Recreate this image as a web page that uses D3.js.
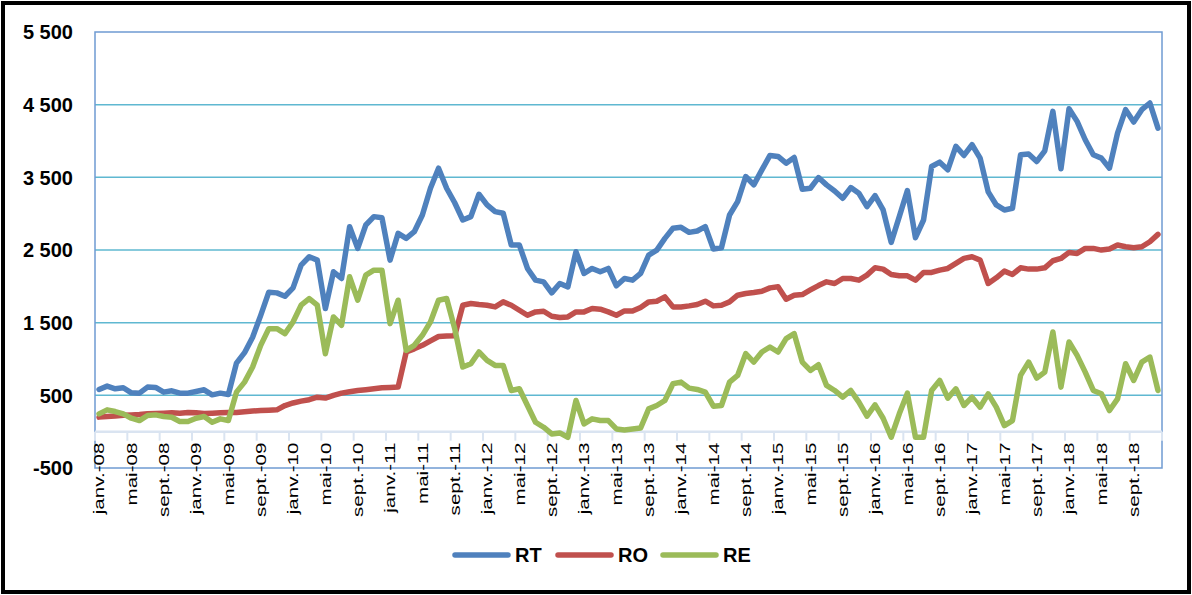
<!DOCTYPE html>
<meta charset="utf-8">
<title>RT / RO / RE</title>
<style>
    body { margin: 0; background: #fff; }
    svg { display: block; }
    .ylab { font-family: "Liberation Sans", Arial, sans-serif; font-weight: bold; font-size: 20px; fill: #000; }
    .xlab { font-family: "Liberation Sans", Arial, sans-serif; font-size: 15px; fill: #000; }
    .leg { font-family: "Liberation Sans", Arial, sans-serif; font-weight: bold; font-size: 20px; fill: #000; }
</style>
<body>
</body>

<script src="https://d3js.org/d3.v7.min.js"></script>
<script>
    const width = 1192, height = 595;

    // categories: janv.-08 .. déc.-18
    const months = ["janv.", "févr.", "mars", "avr.", "mai", "juin", "juil.", "août", "sept.", "oct.", "nov.", "déc."];
    const years = ["08", "09", "10", "11", "12", "13", "14", "15", "16", "17", "18"];
    const categories = years.flatMap(y => months.map(m => m + "-" + y));

    const yTicks = [-500, 500, 1500, 2500, 3500, 4500, 5500];

    const RT = [
        581, 627, 590, 604, 535, 530, 613, 608, 544, 562, 530, 530,
        553, 576, 507, 530, 512, 944, 1087, 1300, 1600, 1920, 1910, 1864,
        1979, 2292, 2407, 2361, 1694, 2200, 2108, 2821, 2522, 2844, 2959, 2945,
        2361, 2729, 2660, 2752, 2982, 3350, 3626, 3350, 3150, 2913, 2959, 3267,
        3120, 3028, 3005, 2568, 2568, 2246, 2085, 2062, 1910, 2039, 1993, 2476,
        2177, 2246, 2200, 2246, 2007, 2108, 2085, 2177, 2430, 2499, 2660, 2798,
        2812, 2743, 2761, 2821, 2513, 2531, 2982, 3166, 3511, 3396, 3603, 3801,
        3787, 3695, 3773, 3336, 3350, 3497, 3396, 3313, 3212, 3359, 3281, 3097,
        3249, 3051, 2605, 2959, 3318, 2669, 2913, 3649, 3709, 3603, 3925, 3801,
        3948, 3764, 3300, 3120, 3051, 3074, 3810, 3820, 3718, 3865, 4408, 3617,
        4445, 4270, 4017, 3810, 3764, 3626, 4109, 4431, 4261, 4431, 4523, 4178
    ];

    const RO = [
        200, 210, 215, 225, 230, 235, 245, 250, 255, 260, 255, 265,
        260, 250, 255, 260, 265, 265, 275, 285, 290, 295, 300, 360,
        395, 420, 440, 475, 462, 500, 530, 550, 567, 578, 590, 604,
        608, 613, 1096, 1140, 1188, 1250, 1310, 1317, 1320, 1740, 1763, 1749,
        1740, 1717, 1786, 1740, 1671, 1602, 1648, 1657, 1588, 1570, 1579, 1648,
        1648, 1694, 1685, 1648, 1602, 1662, 1660, 1710, 1786, 1795, 1855, 1717,
        1717, 1731, 1749, 1795, 1731, 1740, 1786, 1878, 1901, 1915, 1933, 1979,
        1993, 1823, 1878, 1887, 1950, 2010, 2062, 2039, 2108, 2108, 2085, 2154,
        2255, 2237, 2163, 2145, 2145, 2085, 2191, 2191, 2223, 2246, 2315, 2384,
        2407, 2361, 2039, 2117, 2209, 2163, 2255, 2237, 2237, 2255, 2352, 2384,
        2467, 2453, 2522, 2522, 2499, 2513, 2568, 2545, 2531, 2545, 2614, 2715
    ];

    const RE = [
        245, 300, 277, 245, 185, 153, 222, 231, 208, 199, 139, 139,
        185, 208, 130, 176, 153, 544, 682, 889, 1188, 1418, 1418, 1349,
        1510, 1740, 1832, 1740, 1073, 1579, 1464, 2131, 1809, 2154, 2223, 2223,
        1487, 1809, 1119, 1188, 1326, 1510, 1809, 1832, 1420, 889, 935, 1096,
        981, 912, 912, 567, 590, 360, 130, 61, -31, -17, -77, 429,
        107, 176, 153, 153, 38, 24, 38, 50, 314, 360, 429, 659,
        682, 599, 581, 544, 351, 360, 682, 774, 1073, 958, 1096, 1165,
        1096, 1280, 1349, 958, 843, 921, 636, 567, 475, 567, 406, 213,
        369, 185, -77, 245, 530, -77, -77, 567, 705, 461, 590, 360,
        475, 337, 521, 337, 84, 153, 774, 958, 737, 820, 1372, 613,
        1234, 1050, 820, 567, 521, 291, 452, 935, 705, 958, 1027, 567
    ];

    const seriesNames = ["RT", "RO", "RE"];
    const seriesColors = ["#4f81bd", "#c0504d", "#9bbb59"];
    const seriesValues = [RT, RO, RE];

    const plot = {left: 95, right: 1162, top: 32, bottom: 468};

    const fr = d3.formatLocale({decimal: ",", thousands: " ", grouping: [3], currency: ["", " €"], minus: "-"});
    const fmt = fr.format(",d");

    const x = d3.scaleBand().domain(categories).range([plot.left, plot.right]).padding(0);
    const cx = d => x(d) + x.bandwidth() / 2;
    const y = d3.scaleLinear().domain([-500, 5500]).range([plot.bottom, plot.top]);

    const svg = d3.select("body").append("svg")
        .attr("width", width)
        .attr("height", height);

    svg.append("rect")
        .attr("width", width).attr("height", height)
        .attr("fill", "#fff");

    // outer frame
    svg.append("rect")
        .attr("x", 3).attr("y", 3)
        .attr("width", width - 6).attr("height", height - 6)
        .attr("fill", "none")
        .attr("stroke", "#000")
        .attr("stroke-width", 4);

    // gridlines
    svg.append("g")
        .selectAll("line")
        .data(yTicks.filter(t => t > -500 && t < 5500))
        .join("line")
        .attr("x1", plot.left).attr("x2", plot.right)
        .attr("y1", d => y(d)).attr("y2", d => y(d))
        .attr("stroke", "#5fb8d1")
        .attr("stroke-width", 1.5);

    // plot border
    svg.append("rect")
        .attr("x", plot.left).attr("y", plot.top)
        .attr("width", plot.right - plot.left).attr("height", plot.bottom - plot.top)
        .attr("fill", "none")
        .attr("stroke", "#6f9bd2")
        .attr("stroke-width", 1.5);

    // category axis at zero
    const tickIdx = d3.range(0, categories.length + 1, 4);
    const axisG = svg.append("g");
    axisG.append("line")
        .attr("x1", plot.left).attr("x2", plot.right)
        .attr("y1", y(0)).attr("y2", y(0))
        .attr("stroke", "#dae4f1")
        .attr("stroke-width", 2.5);
    axisG.selectAll("line.tick")
        .data(tickIdx)
        .join("line")
        .attr("class", "tick")
        .attr("x1", i => plot.left + i * x.bandwidth())
        .attr("x2", i => plot.left + i * x.bandwidth())
        .attr("y1", y(0)).attr("y2", y(0) + 9)
        .attr("stroke", "#dae4f1")
        .attr("stroke-width", 2);

    // x labels
    svg.append("g")
        .selectAll("text")
        .data(categories.filter((d, i) => i % 4 === 0))
        .join("text")
        .attr("class", "xlab")
        .attr("text-anchor", "end")
        .attr("dy", "0.35em")
        .attr("transform", d => `translate(${cx(d)},${y(0) + 11}) rotate(-90) scale(1.37,1)`)
        .text(d => d);

    // y labels
    svg.append("g")
        .selectAll("text")
        .data(yTicks)
        .join("text")
        .attr("class", "ylab")
        .attr("x", 73)
        .attr("y", d => y(d))
        .attr("dy", "0.36em")
        .attr("text-anchor", "end")
        .text(d => fmt(d));

    // series
    const line = d3.line()
        .x((d, i) => cx(categories[i]))
        .y(d => y(d));

    svg.append("g")
        .selectAll("path")
        .data(seriesValues)
        .join("path")
        .attr("d", d => line(d))
        .attr("fill", "none")
        .attr("stroke", (d, i) => seriesColors[i])
        .attr("stroke-width", 5.5)
        .attr("stroke-linejoin", "round")
        .attr("stroke-linecap", "round");

    // legend
    const legX = [455, 558, 663];
    const leg = svg.append("g")
        .selectAll("g")
        .data(seriesNames)
        .join("g")
        .attr("transform", (d, i) => `translate(${legX[i]},555)`);
    leg.append("line")
        .attr("x1", 0).attr("x2", 53)
        .attr("stroke", (d, i) => seriesColors[i])
        .attr("stroke-width", 5.5)
        .attr("stroke-linecap", "round");
    leg.append("text")
        .attr("class", "leg")
        .attr("x", 60)
        .attr("dy", "0.36em")
        .text(d => d);
</script>
